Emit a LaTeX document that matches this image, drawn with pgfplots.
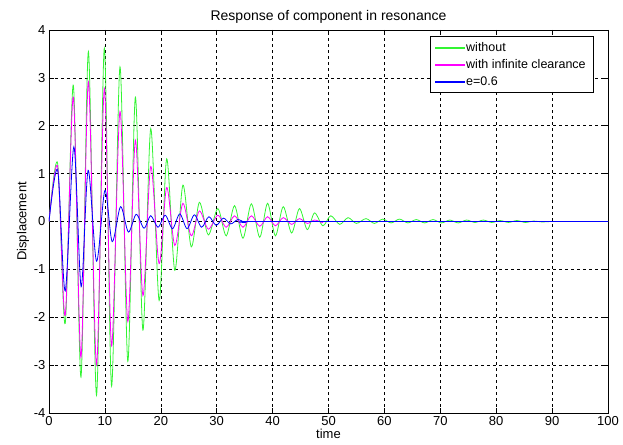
\documentclass[border=0pt]{standalone}
\usepackage{pgfplots}
\pgfplotsset{compat=1.18}
\usepackage{fontspec}
\setmainfont{Liberation Sans}
\definecolor{mgreen}{RGB}{50,245,50}
\definecolor{mmag}{RGB}{255,0,255}
\definecolor{mblue}{RGB}{0,0,255}
\begin{document}
\begin{tikzpicture}
\begin{axis}[
  scale only axis, width=559pt, height=383pt,
  xmin=0, xmax=100, ymin=-4, ymax=4,
  xtick={0,10,...,100}, ytick={-4,-3,...,4},
  tick align=inside, major tick length=5pt,
  tick style={black, line width=0.5pt},
  axis line style={black, line width=0.6pt},
  grid=major,
  major grid style={black, line width=0.6pt, dash pattern=on 3pt off 3pt},
  /pgf/number format/assume math mode=true,
  tick label style={font=\fontsize{13}{15}\selectfont},
  xlabel={time}, ylabel={Displacement},
  label style={font=\fontsize{13}{15}\selectfont},
  xlabel style={yshift=4pt},
  ylabel style={yshift=-2pt},
  title={Response of component in resonance},
  title style={font=\fontsize{14}{16}\selectfont, yshift=-3pt},
  legend style={at={(0.973,0.984)}, anchor=north east,
    font=\fontsize{12.5}{14}\selectfont, row sep=2.5pt, inner xsep=5pt, inner ysep=4pt},
  legend cell align=left,
]
\addlegendimage{legend image code/.code={\fill[mgreen] (0pt,-0.5pt) rectangle (29pt,0.5pt);}}
\addlegendentry{without}
\addlegendimage{legend image code/.code={\fill[mmag] (0pt,-0.5pt) rectangle (29pt,0.5pt);}}
\addlegendentry{with infinite clearance}
\addlegendimage{legend image code/.code={\fill[mblue] (0pt,-0.5pt) rectangle (29pt,0.5pt);}}
\addlegendentry{e=0.6}
\addplot[color=mgreen, line width=0.8pt, smooth, forget plot] coordinates {
(0,0) (1.55,1.21) (2.9,-2.13) (4.35,2.85) (5.72,-3.25) (7.05,3.55) (8.5,-3.63) (9.9,3.62) (11.2,-3.44) (12.7,3.23) (14.1,-2.92) (15.45,2.6) (16.8,-2.27) (18.2,1.94) (19.7,-1.65) (21.05,1.31) (22.5,-1.02) (23.95,0.76) (25.45,-0.53) (26.9,0.4) (28.5,-0.28) (30.2,0.27) (31.7,-0.3) (33.2,0.33) (34.7,-0.35) (36.2,0.37) (37.7,-0.33) (39.1,0.38) (40.5,-0.3) (41.9,0.31) (43.4,-0.24) (44.8,0.27) (46.2,-0.17) (47.5,0.18) (49,-0.09) (50.4,0.12) (52,-0.06) (53.5,0.08) (55,-0.04) (56.7,0.06) (58.2,-0.04) (59.7,0.05) (61.2,-0.03) (62.7,0.05) (64.2,-0.03) (65.7,0.04) (67.2,-0.03) (68.7,0.04) (70.2,-0.03) (71.7,0.03) (73.2,-0.03) (74.7,0.03) (76.2,-0.02) (77.7,0.03) (79.2,-0.02) (80.7,0.02) (82.2,-0.02) (83.7,0.02) (85.2,-0.02) (86.7,0.01) (88.2,-0.01) (90,0) (95,0) (100,0)
};
\addplot[color=mmag, line width=0.8pt, smooth, forget plot] coordinates {
(0,0) (1.55,1.14) (2.9,-1.96) (4.35,2.6) (5.72,-2.84) (7.05,2.92) (8.5,-3.0) (9.9,2.78) (11.2,-2.6) (12.7,2.3) (14.1,-2.09) (15.45,1.7) (16.8,-1.55) (18.2,1.15) (19.7,-0.88) (21.05,0.71) (22.5,-0.5) (23.95,0.38) (25.45,-0.3) (26.9,0.22) (28.5,-0.16) (30.2,0.13) (31.7,-0.12) (33.2,0.12) (34.7,-0.12) (36.2,0.12) (37.7,-0.1) (39.1,0.1) (40.5,-0.09) (41.9,0.08) (43.4,-0.06) (44.8,0.06) (46.2,-0.04) (47.5,0.03) (49,-0.02) (50.5,0) (75,0) (100,0)
};
\addplot[color=mblue, line width=0.8pt, smooth, forget plot] coordinates {
(0,0) (1.55,1.07) (2.9,-1.45) (4.45,1.56) (5.75,-1.36) (7.0,1.07) (8.5,-0.83) (10.0,0.65) (11.3,-0.42) (12.8,0.31) (14.2,-0.22) (15.6,0.15) (17.0,-0.14) (18.2,0.12) (19.5,-0.12) (20.8,0.13) (22.1,-0.15) (23.4,0.16) (24.7,-0.15) (26.0,0.14) (27.3,-0.12) (28.6,0.1) (29.9,-0.08) (31.2,0.07) (32.5,-0.05) (33.8,0.04) (35.1,-0.02) (36.5,0) (70,0) (100,0)
};
\end{axis}
\path[use as bounding box] ([xshift=-49pt,yshift=-32pt]current axis.south west) rectangle ([xshift=15pt,yshift=30pt]current axis.north east);
\end{tikzpicture}
\end{document}
